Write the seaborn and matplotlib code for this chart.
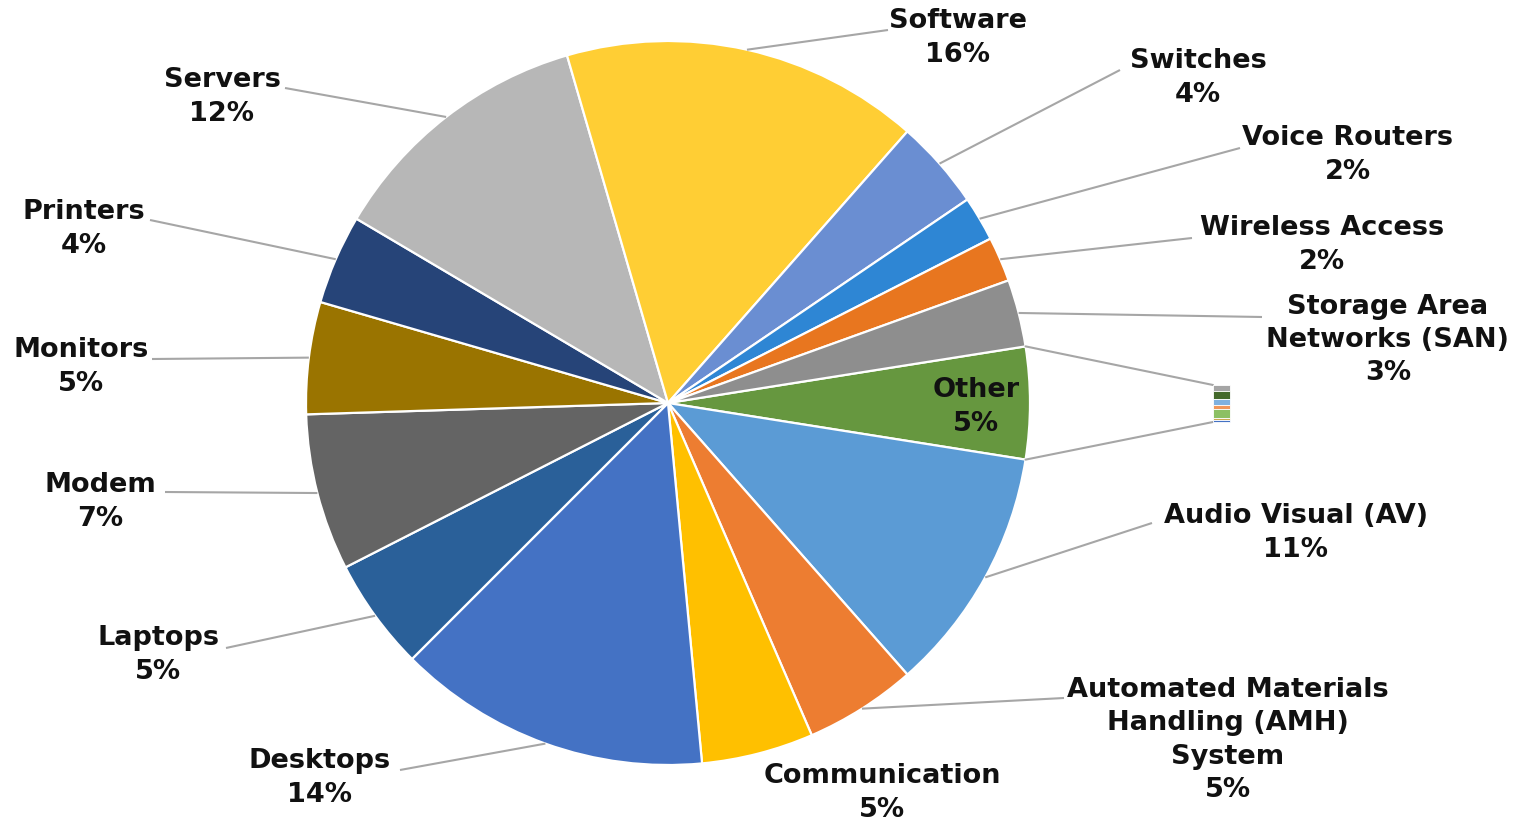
import numpy as np
import matplotlib
matplotlib.use("Agg")
import matplotlib.pyplot as plt
import seaborn as sns

sns.set_theme(style="white")
plt.rcParams["font.family"] = ["DejaVu Sans"]

# Main pie, listed clockwise starting with the "Other" slice at 3 o'clock
categories = ["Other", "Audio Visual (AV)", "Automated Materials\nHandling (AMH)\nSystem",
              "Communication", "Desktops", "Laptops", "Modem", "Monitors", "Printers",
              "Servers", "Software", "Switches", "Voice Routers", "Wireless Access",
              "Storage Area\nNetworks (SAN)"]
shares = [5, 11, 5, 5, 14, 5, 7, 5, 4, 12, 16, 4, 2, 2, 3]
colors = ["#66973F", "#5B9BD5", "#ED7D31", "#FFC000", "#4472C4", "#2A6099", "#646464",
          "#9A7400", "#264478", "#B7B7B7", "#FFCE34", "#6A8ED2", "#2E86D4", "#E8761F",
          "#8E8E8E"]

# Breakdown of "Other", stacked from the top of the small bar downwards
other_parts = [0.8, 1.1, 0.8, 0.6, 1.1, 0.3, 0.3]
other_colors = ["#A5A5A5", "#44692B", "#7FB1DF", "#F0975A", "#8CC063", "#C9A94F", "#4472C4"]

W, H = 1526, 822
fig = plt.figure(figsize=(W / 100, H / 100), dpi=100)
ax = fig.add_axes([0, 0, 1, 1])

cx, cy, R = 668, H - 403, 362
start = 360 * shares[0] / 100 / 2
wedges, _ = ax.pie(shares, colors=colors, startangle=start, counterclock=False,
                   center=(cx, cy), radius=R, frame=True,
                   wedgeprops=dict(edgecolor="white", linewidth=1.6))
ax.set_xlim(0, W)
ax.set_ylim(0, H)
ax.set_aspect("equal")
ax.axis("off")

# Label anchor (text centre) and leader end for each slice, in pixel layout units
label_pos = {
    "Other": ((976, 407), None),
    "Audio Visual (AV)": ((1296, 533), (1152, 523)),
    "Automated Materials\nHandling (AMH)\nSystem": ((1228, 740), (1064, 698)),
    "Communication": ((882, 793), None),
    "Desktops": ((320, 778), (400, 770)),
    "Laptops": ((158, 655), (226, 648)),
    "Modem": ((100, 502), (165, 492)),
    "Monitors": ((81, 367), (152, 359)),
    "Printers": ((84, 229), (150, 220)),
    "Servers": ((222, 97), (285, 88)),
    "Software": ((958, 38), (888, 30)),
    "Switches": ((1198, 78), (1120, 70)),
    "Voice Routers": ((1348, 155), (1240, 148)),
    "Wireless Access": ((1322, 245), (1192, 238)),
    "Storage Area\nNetworks (SAN)": ((1388, 340), (1262, 317)),
}

line_col = "#A6A6A6"
for w, name, val in zip(wedges, categories, shares):
    mid = np.deg2rad((w.theta1 + w.theta2) / 2)
    edge = (cx + R * np.cos(mid), cy + R * np.sin(mid))
    (tx, ty), lead = label_pos[name]
    if lead is not None:
        ax.plot([edge[0], lead[0]], [edge[1], H - lead[1]], color=line_col, lw=1.5,
                solid_capstyle="butt", zorder=1)
    ax.text(tx, H - ty, f"{name}\n{val}%", ha="center", va="center",
            fontsize=19.5, fontweight="bold", color="#111111", linespacing=1.37, zorder=5)

# Stacked bar that breaks out the "Other" slice
bx, bw = 1213, 17
top, bottom = H - 385, H - 422
scale = (top - bottom) / sum(other_parts)
y = top
for v, c in zip(other_parts, other_colors):
    ax.bar(bx, -v * scale, bottom=y, width=bw, align="edge", color=c,
           edgecolor="white", linewidth=0.6, zorder=3)
    y -= v * scale

# Connectors from the "Other" slice to the bar
ow = wedges[0]
for ang, by in ((ow.theta1, bottom), (ow.theta2, top)):
    a = np.deg2rad(ang)
    ax.plot([cx + R * np.cos(a), bx], [cy + R * np.sin(a), by], color=line_col, lw=1.5,
            zorder=1)

fig.savefig("out.png", dpi=100)
